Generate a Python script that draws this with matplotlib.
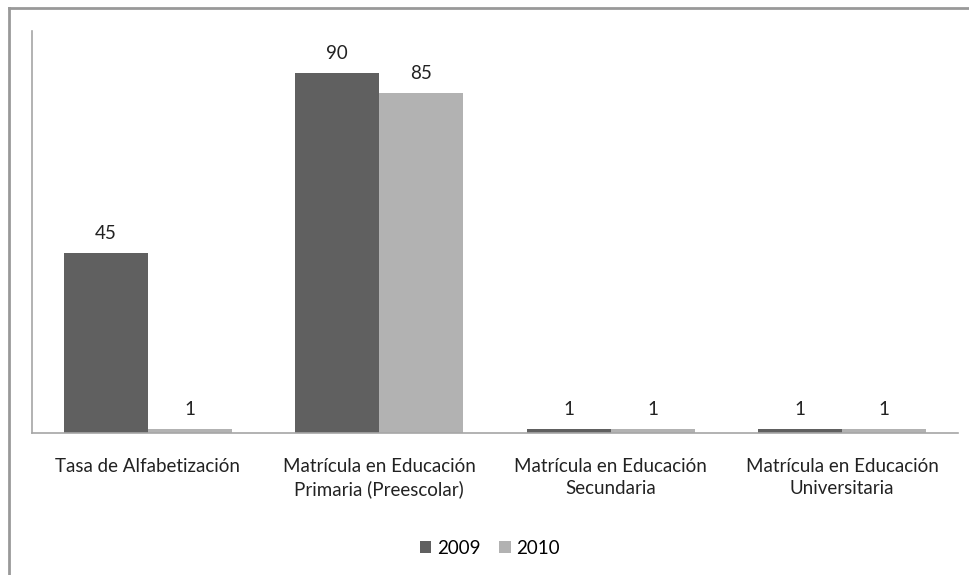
import matplotlib.pyplot as plt
import numpy as np
from matplotlib.lines import Line2D

# datos
categorias = ['Tasa de Alfabetización',
              'Matrícula en Educación\nPrimaria (Preescolar)',
              'Matrícula en Educación\nSecundaria',
              'Matrícula en Educación\nUniversitaria']
serie_2009 = [45, 90, 1, 1]
serie_2010 = [1, 85, 1, 1]
anios = ['2009', '2010']

plt.rcParams['font.family'] = ['Lato', 'DejaVu Sans']

W, H = 970, 575
fig = plt.figure(figsize=(9.7, 5.75), dpi=100)
ax = fig.add_axes([32 / W, 1 - 433 / H, 926 / W, 402 / H])

x = np.arange(len(categorias))
ancho = 0.363
b1 = ax.bar(x - ancho / 2, serie_2009, ancho, color='#606060', label=anios[0])
b2 = ax.bar(x + ancho / 2, serie_2010, ancho, color='#b2b2b2', label=anios[1])

for barras in (b1, b2):
    for r in barras:
        ax.annotate(str(int(r.get_height())), (r.get_x() + r.get_width() / 2, r.get_height()),
                    xytext=(0, 8), textcoords='offset points', ha='center', va='bottom',
                    fontsize=13.5, color='#222222')

ax.set_xlim(-0.5, 3.5)
ax.set_ylim(0, 100.5)
ax.set_yticks([])
ax.set_xticks(x)
ax.set_xticklabels(categorias, fontsize=13.5, color='#222222', linespacing=1.35)
ax.tick_params(axis='x', length=0, pad=18)
for s in ['top', 'right']:
    ax.spines[s].set_visible(False)
for s in ['left', 'bottom']:
    ax.spines[s].set_color('#a6a6a6')
    ax.spines[s].set_linewidth(1.2)

ax.legend(loc='center', bbox_to_anchor=(490 / W, 1 - 548 / H), bbox_transform=fig.transFigure,
          ncol=2, frameon=False, fontsize=13.5, handlelength=0.6, handleheight=0.6,
          handletextpad=0.3, columnspacing=1.0)

# borde del gráfico (arriba e izquierda)
fig.add_artist(Line2D([9.5 / W, 9.5 / W], [0, 1 - 7.5 / H], color='#999999', lw=2, transform=fig.transFigure))
fig.add_artist(Line2D([9.5 / W, 1], [1 - 7.5 / H, 1 - 7.5 / H], color='#999999', lw=2, transform=fig.transFigure))

fig.savefig('out.png', dpi=100)
